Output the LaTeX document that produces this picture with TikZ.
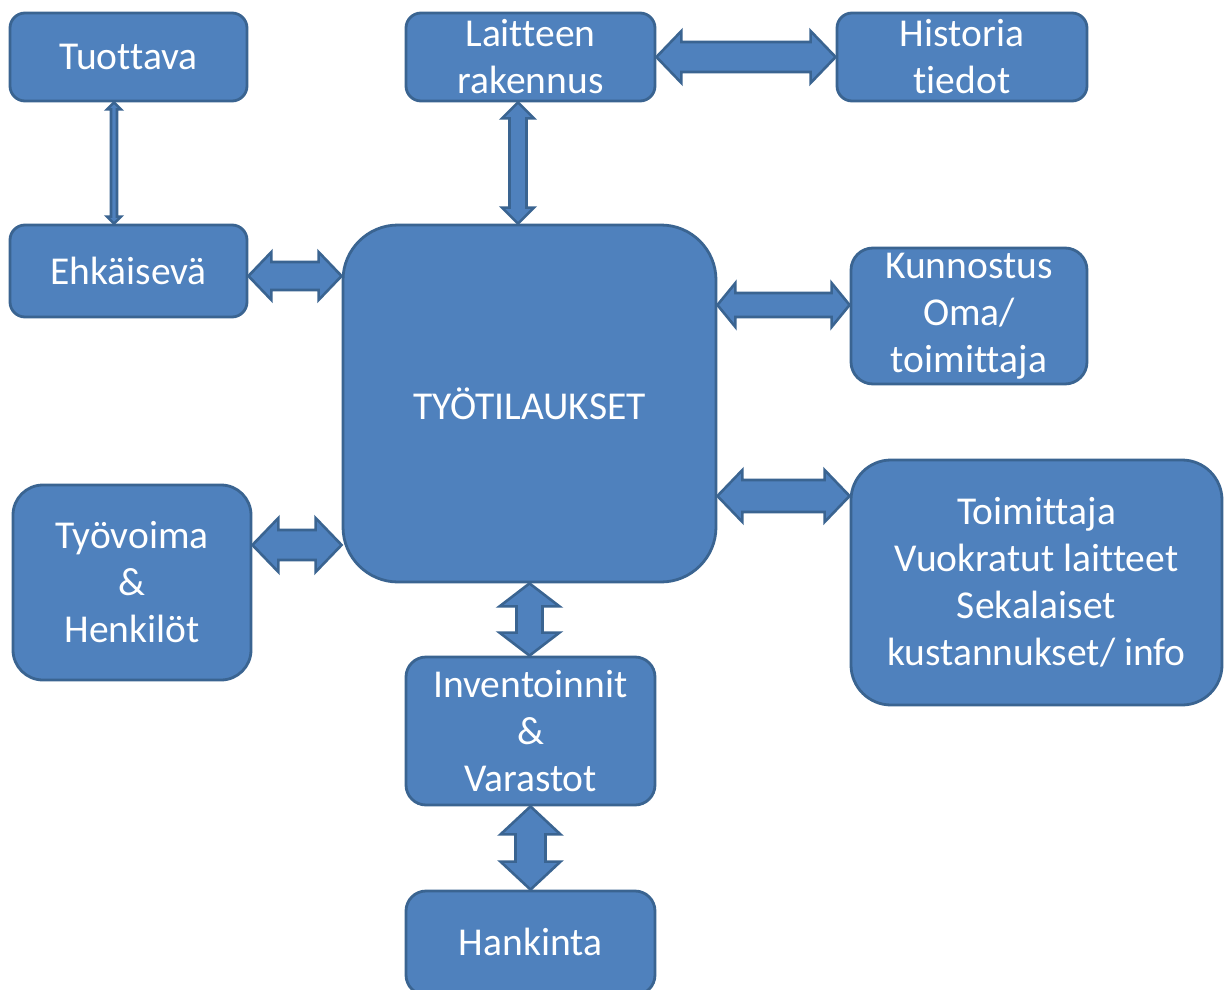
\documentclass[tikz,border=0pt]{standalone}
\usepackage{fontspec}
\setmainfont{Carlito}[Ligatures={NoCommon}]
\usetikzlibrary{calc}

\definecolor{boxfill}{HTML}{4F81BD}
\definecolor{boxline}{HTML}{3A6491}

\tikzset{
  box/.style={draw=boxline, fill=boxfill, line width=2.8pt, text=white,
    align=center, inner sep=0pt, font=\fontsize{39.5}{47}\selectfont},
  blockarr/.style={draw=boxline, fill=boxfill, line width=2.6pt, line join=miter},
}

% horizontal double block arrow: left end, right end, shaft half, head half, head length
\newcommand{\harrow}[5]{%
  \filldraw[blockarr] let \p1=(#1), \p2=(#2) in
    (\x1,\y1) -- (\x1+#5pt,\y1+#4pt) -- (\x1+#5pt,\y1+#3pt) -- (\x2-#5pt,\y1+#3pt)
    -- (\x2-#5pt,\y1+#4pt) -- (\x2,\y1) -- (\x2-#5pt,\y1-#4pt) -- (\x2-#5pt,\y1-#3pt)
    -- (\x1+#5pt,\y1-#3pt) -- (\x1+#5pt,\y1-#4pt) -- cycle;}
% vertical double block arrow: top end, bottom end, shaft half, head half, head length
\newcommand{\varrow}[5]{%
  \filldraw[blockarr] let \p1=(#1), \p2=(#2) in
    (\x1,\y1) -- (\x1+#4pt,\y1-#5pt) -- (\x1+#3pt,\y1-#5pt) -- (\x1+#3pt,\y2+#5pt)
    -- (\x1+#4pt,\y2+#5pt) -- (\x1,\y2) -- (\x1-#4pt,\y2+#5pt) -- (\x1-#3pt,\y2+#5pt)
    -- (\x1-#3pt,\y1-#5pt) -- (\x1-#4pt,\y1-#5pt) -- cycle;}

\begin{document}
\begin{tikzpicture}[x=1pt, y=-1pt]
\useasboundingbox (0,0) rectangle (1224,990);

% boxes
\node[box, minimum width=237pt, minimum height=88pt, rounded corners=15pt] (tuo) at (128.5,57) {Tuottava};
\node[box, minimum width=249pt, minimum height=88pt, rounded corners=15pt] (lai) at (530.5,57) {Laitteen\\rakennus};
\node[box, minimum width=250pt, minimum height=88pt, rounded corners=15pt] (his) at (962,57) {Historia\\tiedot};
\node[box, minimum width=237pt, minimum height=92pt, rounded corners=15pt] (ehk) at (128.5,271) {Ehkäisevä};
\node[box, minimum width=373pt, minimum height=357pt, rounded corners=55pt] (tyo) at (529.5,403.5) {TYÖTILAUKSET};
\node[box, minimum width=236pt, minimum height=136pt, rounded corners=22pt] (kun) at (969,316) {Kunnostus\\Oma/\\toimittaja};
\node[box, minimum width=238pt, minimum height=195pt, rounded corners=30pt] (tyv) at (132,582.5) {Työvoima\\\&\\Henkilöt};
\node[box, minimum width=371pt, minimum height=245pt, rounded corners=40pt] (toi) at (1036.5,582.5) {Toimittaja\\Vuokratut laitteet\\Sekalaiset\\kustannukset/ info};
\node[box, minimum width=249pt, minimum height=148pt, rounded corners=20pt] (inv) at (530.5,731) {Inventoinnit\\\&\\Varastot};
\node[box, minimum width=249pt, minimum height=104pt, rounded corners=20pt, text depth=0pt] (han) at (530.5,943) {\raisebox{3pt}{Hankinta}};

% attachment points of the connectors
\coordinate (c2) at ([xshift=-14.5pt]tuo.south);
\coordinate (c3) at ([xshift=-12.5pt]lai.south);
\coordinate (c4) at ([yshift=-5pt]ehk.east);
\coordinate (c5) at ([yshift=11pt]kun.west);
\coordinate (c6) at ([yshift=86.5pt]toi.west);
\coordinate (c7) at ([yshift=37.5pt]tyv.east);

% connectors
\harrow{lai.east}{his.west}{15}{26}{25}
\varrow{c2}{c2 |- ehk.north}{3}{7}{7}
\varrow{c3}{c3 |- tyo.north}{8.5}{16}{16}
\harrow{c4}{c4 -| tyo.west}{14}{24}{23}
\harrow{c5 -| tyo.east}{c5}{12}{22}{18}
\harrow{c6 -| tyo.east}{c6}{16}{26}{25}
\harrow{c7}{c7 -| tyo.west}{15}{27}{26}
\varrow{tyo.south}{tyo.south |- inv.north}{13}{30}{23}
\varrow{inv.south}{inv.south |- han.north}{15}{30}{28}
\end{tikzpicture}
\end{document}
